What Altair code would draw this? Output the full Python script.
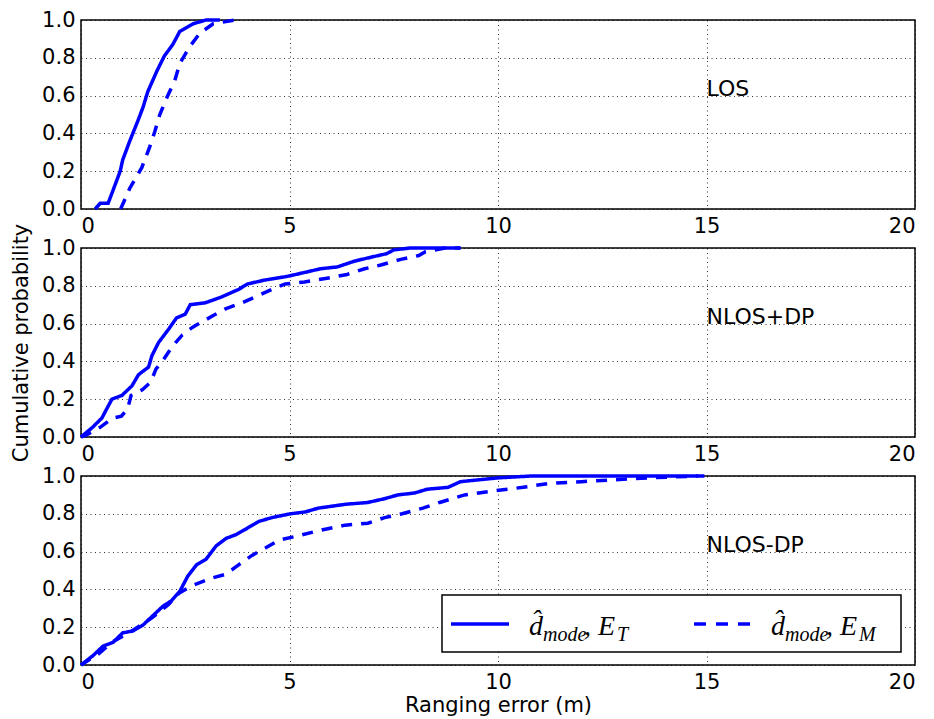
import altair as alt
import pandas as pd

# ---------------- data ----------------
los_t_x = [0.34, 0.46, 0.65, 0.77, 0.94, 1.0, 1.17, 1.37, 1.49, 1.6, 1.82, 2.0, 2.2, 2.37, 2.69, 3.0, 3.33]
los_t_y = [0.0, 0.03, 0.03, 0.10, 0.20, 0.26, 0.36, 0.47, 0.54, 0.62, 0.73, 0.81, 0.87, 0.94, 0.98, 1.0, 1.0]
los_m_x = [0.95, 1.17, 1.46, 1.65, 1.77, 1.89, 2.06, 2.25, 2.37, 2.61, 2.85, 3.17, 3.69]
los_m_y = [0.0, 0.11, 0.22, 0.33, 0.41, 0.50, 0.59, 0.68, 0.77, 0.86, 0.93, 0.98, 1.0]

ndp_t_x = [0.0, 0.27, 0.5, 0.74, 0.98, 1.22, 1.38, 1.62, 1.7, 1.86, 2.1, 2.29, 2.5, 2.62, 2.98, 3.36,
           3.77, 4.0, 4.4, 4.95, 5.35, 5.74, 6.15, 6.55, 6.93, 7.33, 7.5, 7.9, 9.1]
ndp_t_y = [0.0, 0.05, 0.10, 0.20, 0.22, 0.27, 0.33, 0.37, 0.43, 0.50, 0.57, 0.63, 0.65, 0.70, 0.71, 0.74,
           0.78, 0.81, 0.83, 0.85, 0.87, 0.89, 0.90, 0.93, 0.95, 0.97, 0.99, 1.0, 1.0]
ndp_m_x = [0.0, 0.12, 0.45, 0.76, 0.97, 1.12, 1.2, 1.47, 1.67, 1.8, 1.95, 2.1, 2.27, 2.43, 2.67, 2.83,
           3.15, 3.48, 3.86, 4.27, 4.57, 4.9, 5.36, 5.9, 6.38, 6.8, 7.19, 7.67, 8.1, 8.26, 8.73, 9.1]
ndp_m_y = [0.0, 0.01, 0.05, 0.10, 0.11, 0.15, 0.22, 0.25, 0.29, 0.36, 0.40, 0.45, 0.50, 0.54, 0.58, 0.60,
           0.64, 0.68, 0.71, 0.75, 0.78, 0.81, 0.82, 0.84, 0.86, 0.89, 0.91, 0.94, 0.96, 0.98, 1.0, 1.0]

nndp_t_x = [0.0, 0.29, 0.53, 0.77, 1.0, 1.24, 1.48, 1.72, 1.96, 2.17, 2.37, 2.56, 2.77, 3.0, 3.24, 3.48,
            3.72, 3.96, 4.27, 4.58, 5.02, 5.38, 5.69, 6.33, 6.88, 7.28, 7.6, 8.0, 8.3, 8.8, 9.1, 10.0,
            10.8, 14.95]
nndp_t_y = [0.0, 0.05, 0.10, 0.12, 0.17, 0.18, 0.21, 0.26, 0.31, 0.34, 0.39, 0.47, 0.53, 0.56, 0.63, 0.67,
            0.69, 0.72, 0.76, 0.78, 0.80, 0.81, 0.83, 0.85, 0.86, 0.88, 0.90, 0.91, 0.93, 0.94, 0.97, 0.99,
            1.0, 1.0]
nndp_m_x = [0.0, 0.43, 0.74, 1.22, 1.7, 2.1, 2.35, 2.66, 3.14, 3.47, 3.78, 4.1, 4.43, 4.74, 5.14, 5.69,
            6.33, 6.88, 7.28, 7.7, 8.2, 8.6, 9.2, 9.85, 10.6, 11.2, 12.0, 12.8, 13.6, 14.8]
nndp_m_y = [0.0, 0.06, 0.12, 0.18, 0.25, 0.32, 0.38, 0.42, 0.46, 0.48, 0.53, 0.58, 0.62, 0.66, 0.68, 0.71,
            0.74, 0.75, 0.78, 0.80, 0.83, 0.86, 0.90, 0.92, 0.94, 0.96, 0.97, 0.98, 0.99, 1.0]

panel_names = ["LOS", "NLOS+DP", "NLOS-DP"]
series_names = ["ET", "EM"]
x_ticks = [0, 5, 10, 15, 20]
y_ticks = [0.0, 0.2, 0.4, 0.6, 0.8, 1.0]

# ---------------- build table ----------------
rows = []
curves = {
    ("LOS", "ET"): (los_t_x, los_t_y),
    ("LOS", "EM"): (los_m_x, los_m_y),
    ("NLOS+DP", "ET"): (ndp_t_x, ndp_t_y),
    ("NLOS+DP", "EM"): (ndp_m_x, ndp_m_y),
    ("NLOS-DP", "ET"): (nndp_t_x, nndp_t_y),
    ("NLOS-DP", "EM"): (nndp_m_x, nndp_m_y),
}
for (p, s), (xs, ys) in curves.items():
    for i, (xv, yv) in enumerate(zip(xs, ys)):
        rows.append({"panel": p, "series": s, "x": xv, "y": yv, "i": i})
df = pd.DataFrame(rows)

BLUE = "#0000ff"
FONT = "DejaVu Sans"
MATH = "Liberation Serif"
W, H = 834, 189
one = pd.DataFrame({"k": [0]})


def panel(name, ytitle, xtitle, with_legend):
    base = alt.Chart(df).transform_filter(alt.datum.panel == name)
    xenc = alt.X("x:Q", scale=alt.Scale(domain=[0, 20], nice=False),
                 axis=alt.Axis(values=x_ticks, tickCount=20, title=xtitle, format="d",
                               labelOverlap=False))
    yenc = alt.Y("y:Q", scale=alt.Scale(domain=[0, 1], nice=False),
                 axis=alt.Axis(values=y_ticks, tickCount=20, title=ytitle, format=".1f",
                               labelOverlap=False))
    lines = base.mark_line(color=BLUE, strokeWidth=3.5).encode(
        x=xenc, y=yenc, order="i:Q",
        strokeDash=alt.StrokeDash("series:N",
                                  scale=alt.Scale(domain=series_names, range=[[1, 0], [11, 9]]),
                                  legend=None),
    )
    label = alt.Chart(one).mark_text(align="left", baseline="alphabetic", font=FONT,
                                     fontSize=22, color="black").encode(
        x=alt.datum(15), y=alt.datum(0.6), text=alt.value(name))
    layers = [lines, label]
    if with_legend:
        box = alt.Chart(one).mark_rect(fill="white", stroke="black", strokeWidth=1.5).encode(
            x=alt.value(361), x2=alt.value(820), y=alt.value(119), y2=alt.value(176))
        s1 = alt.Chart(one).mark_rule(color=BLUE, strokeWidth=3.5).encode(
            x=alt.value(370), x2=alt.value(428), y=alt.value(148))
        s2 = alt.Chart(one).mark_rule(color=BLUE, strokeWidth=3.5, strokeDash=[12, 10]).encode(
            x=alt.value(613), x2=alt.value(669), y=alt.value(148))
        layers += [box, s1, s2]

        def t(txt, xp, yp, size):
            return alt.Chart(one).mark_text(align="left", baseline="alphabetic", font=MATH,
                                            fontStyle="italic", fontSize=size, color="black").encode(
                x=alt.value(xp), y=alt.value(yp), text=alt.value(txt))
        layers += [
            t("d\u0302", 448, 159, 28), t("mode", 462, 165, 20), t(", E", 503, 159, 28), t("T", 536, 165, 20),
            t("d\u0302", 690, 159, 28), t("mode", 704, 165, 20), t(", E", 745, 159, 28), t("M", 778, 165, 20),
        ]
    return alt.layer(*layers).properties(width=W, height=H)


p1 = panel("LOS", "", "", False)
p2 = panel("NLOS+DP", "Cumulative probability", "", False)
p3 = panel("NLOS-DP", "", "Ranging error (m)", True)

chart = alt.vconcat(p1, p2, p3, spacing=39, bounds="flush").properties(
    padding={"left": 1, "top": 0, "right": 5, "bottom": 0}
).configure_view(
    stroke="black", strokeWidth=1.5
).configure_axis(
    labelFont=FONT, labelFontSize=21, labelColor="black",
    titleFont=FONT, titleFontSize=21, titleFontWeight="normal", titleColor="black",
    grid=True, gridColor="black", gridDash=[1, 3.5], gridWidth=1, gridOpacity=0.8,
    domain=False, ticks=False, labelPadding=6,
).configure_axisY(titlePadding=10).configure_axisX(titlePadding=2)

chart.save("out.html", embed_options={"renderer": "svg", "actions": False})
